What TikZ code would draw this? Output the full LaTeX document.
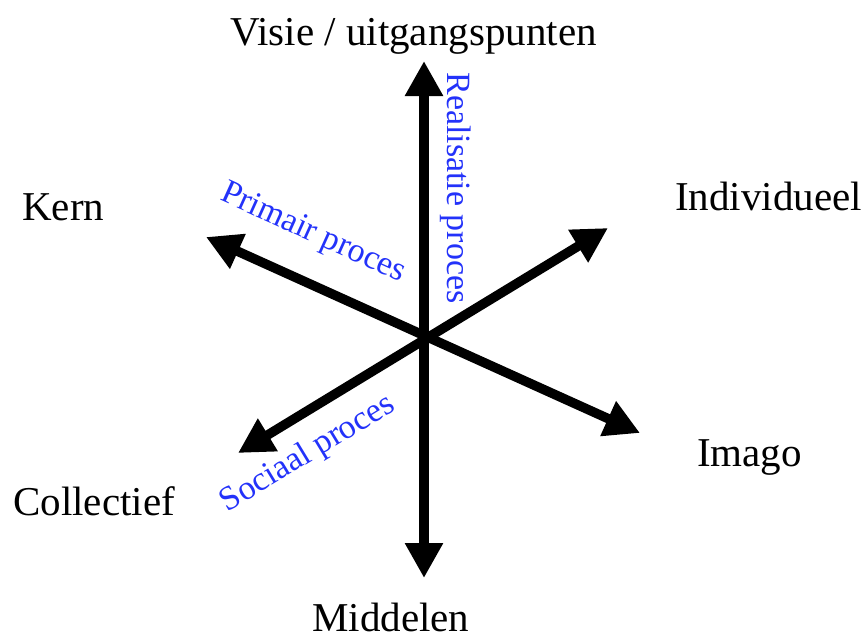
\documentclass[tikz,border=0pt]{standalone}
\usepackage{fontspec}
\setmainfont{Liberation Serif}
\usetikzlibrary{arrows.meta}
\definecolor{lblue}{RGB}{35,50,250}
\tikzset{
  arr/.style={line width=9.5pt, {Triangle[length=35pt,width=36pt]}-{Triangle[length=35pt,width=36pt]}},
  lab/.style={inner sep=0pt, anchor=base west, font=\fontsize{41}{48}\selectfont},
  blab/.style={inner sep=0pt, anchor=center, text=lblue, font=\fontsize{34}{40}\selectfont}
}
\begin{document}
\begin{tikzpicture}[x=1pt,y=-1pt]
\useasboundingbox (0,0) rectangle (866,637);
\coordinate (top) at (424,61);
\coordinate (bot) at (424,578);
\coordinate (kern) at (206,237);
\coordinate (imago) at (640,433);
\coordinate (coll) at (238,453);
\coordinate (indiv) at (608,228);
\draw[arr] (bot) -- (top);
\draw[arr] (kern) -- (imago);
\draw[arr] (coll) -- (indiv);
\node[lab] (tvisie) at (230,45) {Visie / uitgangspunten};
\node[lab] (tindiv) at (675,210) {Individueel};
\node[lab] (tkern) at (22,220) {Kern};
\node[lab] (timago) at (697,466) {Imago};
\node[lab] (tcoll) at (13,515) {Collectief};
\node[lab] (tmidd) at (312,631) {Middelen};
\node[blab, rotate=-90] (treal) at (456,188) {Realisatie proces};
\node[blab, rotate=-24.3] (tprim) at (313,234) {Primair proces};
\node[blab, rotate=31.3] (tsoc) at (308,454) {Sociaal proces};
\end{tikzpicture}
\end{document}
